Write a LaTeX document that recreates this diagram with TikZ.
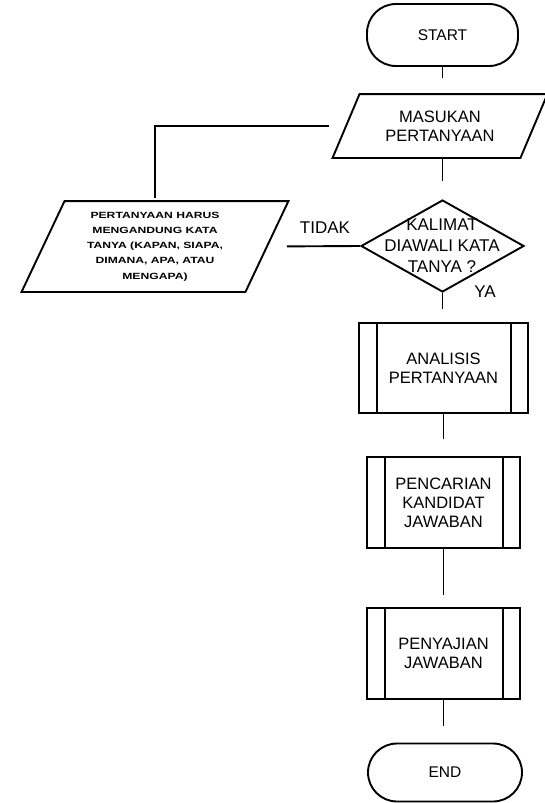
\documentclass[tikz,border=0pt]{standalone}
\usepackage{fontspec}
\setmainfont{Liberation Sans}
\newfontfamily\lpfont{Liberation Sans}[FakeStretch=1.35]
\usetikzlibrary{shapes.geometric}
\begin{document}
\begin{tikzpicture}[x=1pt,y=-1pt,
  every path/.style={line width=1.9pt},
  txt/.style={font=\fontsize{16.5}{19}\selectfont, align=center, inner sep=0pt},
  term/.style={txt, font=\fontsize{15.5}{19}\selectfont, draw, rectangle, rounded corners=29pt, minimum height=62pt},
  iobox/.style={txt, rectangle, draw=none, minimum height=#1},
  procbox/.style={txt, draw, rectangle, minimum width=153pt, minimum height=91pt},
  decision/.style={draw, diamond, inner sep=0pt, minimum width=163pt, minimum height=92pt},
  lbl/.style={font=\fontsize{17}{20}\selectfont, inner sep=0pt},
  conn/.style={line width=1.9pt}
]
\useasboundingbox (0,0) rectangle (545,803);

% nodes
\node[term, minimum width=151pt] (start) at (442.5,35) {START};

\node[iobox=62pt, minimum width=186pt] (in) at (440,126) {MASUKAN\\PERTANYAAN};
\draw ([xshift=13.5pt]in.north west) -- ([xshift=13.5pt]in.north east)
      -- ([xshift=-13.5pt]in.south east) -- ([xshift=-13.5pt]in.south west) -- cycle;

\node[decision] (dia) at (442.5,246) {};
\node[txt, font=\fontsize{17}{21}\selectfont] (diatext) at (442,246) {KALIMAT\\DIAWALI KATA\\TANYA ?};

\node[iobox=89pt, minimum width=222pt, font=\lpfont\bfseries\fontsize{9}{15.2}\selectfont] (lp) at (155,246.5)
  {PERTANYAAN HARUS\\MENGANDUNG KATA\\TANYA (KAPAN, SIAPA,\\DIMANA, APA, ATAU\\MENGAPA)};
\draw ([xshift=21.5pt]lp.north west) -- ([xshift=21.5pt]lp.north east)
      -- ([xshift=-21.5pt]lp.south east) -- ([xshift=-21.5pt]lp.south west) -- cycle;

\node[procbox, minimum width=169pt, minimum height=90pt] (b1) at (443.5,368) {ANALISIS\\PERTANYAAN};
\node[procbox] (b2) at (443.5,502.5) {PENCARIAN\\KANDIDAT\\JAWABAN};
\node[procbox] (b3) at (443.5,653.5) {PENYAJIAN\\JAWABAN};
\foreach \b in {b1,b2,b3}{
  \draw ([xshift=19pt]\b.north west) -- ([xshift=19pt]\b.south west);
  \draw ([xshift=-18pt]\b.north east) -- ([xshift=-18pt]\b.south east);
}

\node[term, minimum width=154pt, minimum height=58pt] (end) at (445,772.5) {END};

\node[lbl] (tidak) at (325,228) {TIDAK};
\node[lbl] (ya) at (485,292) {YA};

% connectors
\draw[conn, shorten >=16pt] (start.south) -- (start.south |- in.north);
\draw[conn, shorten >=18pt] (dia.north |- in.south) -- (dia.north);
\draw[conn, shorten >=13pt] (dia.south) -- (dia.south |- b1.north);
\draw[conn, shorten >=17pt] (b1.south) -- (b2.north);
\draw[conn, shorten >=12pt] (b2.south) -- (b3.north);
\draw[conn, shorten >=17pt] (b3.south) -- (b3.south |- end.north);
\draw[conn, shorten >=20pt] (dia.west) -- (lp.east);
\draw[conn, shorten <=3pt, shorten >=17pt] (lp.north) |- (in.west);
\end{tikzpicture}
\end{document}
